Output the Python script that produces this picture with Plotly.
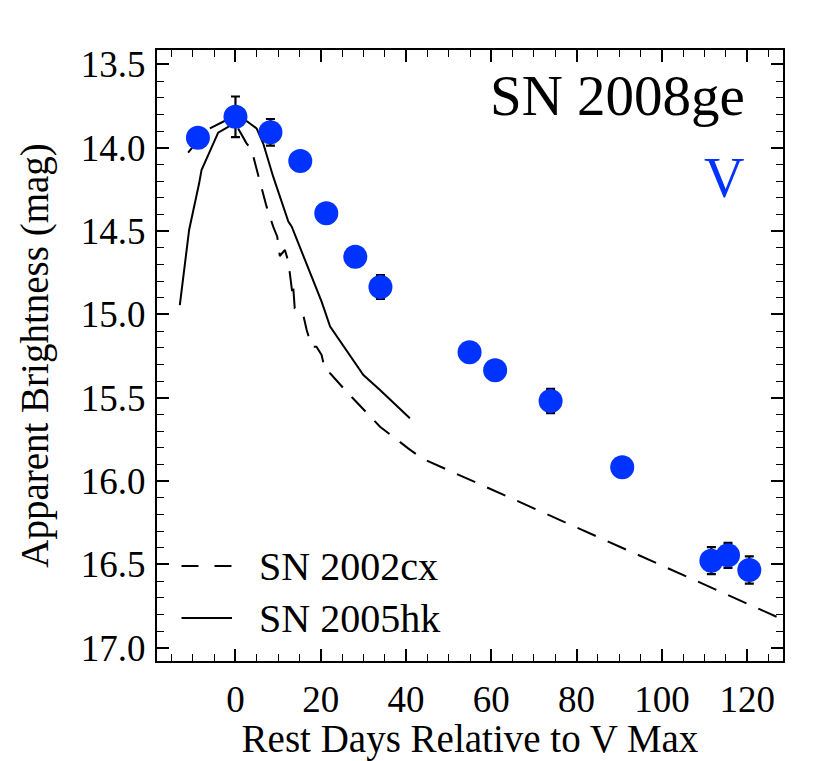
import plotly.graph_objects as go

# SN 2008ge V-band photometry
days_08ge = [-8.8, 0.0, 8.2, 15.2, 21.3, 28.1, 34.0, 54.9, 60.9, 73.9, 90.7, 111.6, 115.5, 120.5]
mag_08ge = [13.94, 13.815, 13.908, 14.08, 14.394, 14.654, 14.836, 15.228, 15.336, 15.52, 15.918, 16.478, 16.446, 16.534]
err_08ge = [0.04, 0.122, 0.08, 0.03, 0.03, 0.04, 0.072, 0.03, 0.03, 0.073, 0.03, 0.081, 0.075, 0.082]

# SN 2005hk template (solid)
days_05hk = [-13.05, -10.87, -8.52, -7.96, -4.06, 0.0, 2.6, 4.95, 6.5, 8.85, 12.4, 13.2, 20.2, 22.2, 30.0, 33.9, 40.9]
mag_05hk = [14.945, 14.494, 14.214, 14.134, 13.91, 13.85, 13.84, 13.884, 13.974, 14.174, 14.444, 14.474, 14.924, 15.074, 15.364, 15.454, 15.624]

# SN 2002cx template (dashed)
days_02cx = [-11.1, -6.8, -2.1, 0.6, 2.6, 3.8, 4.6, 6.5, 7.3, 8.85, 9.8, 10.4, 11.6, 12.4, 12.9, 13.4, 13.55, 13.9,
             15.1, 15.9, 16.7, 17.9, 19.0, 20.2, 21.0, 22.2, 25.7, 33.9, 40.5, 43.7, 130.0]
mag_02cx = [14.03, 13.894, 13.834, 13.884, 13.974, 14.014, 14.094, 14.274, 14.354, 14.474, 14.534, 14.65, 14.614, 14.684,
            14.804, 14.884, 14.838, 14.964, 14.974, 15.004, 15.094, 15.194, 15.194, 15.244, 15.334, 15.354, 15.454,
            15.674, 15.804, 15.864, 16.85]

legend_names = ["SN 2002cx", "SN 2005hk"]
title_text = "SN 2008ge"
band_text = "V"

FONT = "Liberation Serif, Times New Roman, serif"
BLUE = "#0033ff"

fig = go.Figure()
fig.add_trace(go.Scatter(x=days_02cx, y=mag_02cx, mode="lines",
                         line=dict(color="black", width=2, dash="20px,13px"), showlegend=False))
fig.add_trace(go.Scatter(x=days_05hk, y=mag_05hk, mode="lines",
                         line=dict(color="black", width=2), showlegend=False))
fig.add_trace(go.Scatter(x=days_08ge, y=mag_08ge, mode="markers",
                         marker=dict(color=BLUE, size=24, line=dict(width=0)),
                         error_y=dict(type="data", array=err_08ge, color="black", thickness=2.2, width=4.5),
                         showlegend=False))

axis_common = dict(showline=True, linecolor="black", linewidth=2, mirror="allticks",
                   ticks="inside", ticklen=12, tickwidth=1.6, tickcolor="black",
                   showgrid=False, zeroline=False,
                   tickfont=dict(family=FONT, size=37, color="black"))

fig.update_xaxes(range=[-18.4, 128.4], tick0=0, dtick=20,
                 minor=dict(dtick=5, ticks="inside", ticklen=7, tickwidth=1.4, tickcolor="black", showgrid=False),
                 ticklabelstandoff=5,
                 title=dict(text="Rest Days Relative to V Max", font=dict(family=FONT, size=39, color="black"), standoff=7),
                 **axis_common)
fig.update_yaxes(range=[17.08, 13.414], tick0=13.5, dtick=0.5, tickformat=".1f",
                 minor=dict(dtick=0.1, ticks="inside", ticklen=7, tickwidth=1.4, tickcolor="black", showgrid=False),
                 ticklabelstandoff=2,
                 title=dict(text="Apparent Brightness (mag)", font=dict(family=FONT, size=39, color="black"), standoff=20),
                 **axis_common)

# Plot-area pixel geometry for the hand-drawn legend / labels
L, T, W, H = 157, 50, 626, 611
def px(x):
    return (x - L) / W
def py(y):
    return 1 - (y - T) / H

fig.add_annotation(x=px(747), y=py(96), xref="paper", yref="paper", text=title_text, showarrow=False,
                   xanchor="right", yanchor="middle", font=dict(family=FONT, size=57, color="black"))
fig.add_annotation(x=px(746), y=py(178), xref="paper", yref="paper", text=band_text, showarrow=False,
                   xanchor="right", yanchor="middle", font=dict(family=FONT, size=56, color=BLUE))

legend_y = [566, 618]
legend_dash = ["17px,16px", "solid"]
for name, yy, dash in zip(legend_names, legend_y, legend_dash):
    fig.add_shape(type="line", xref="paper", yref="paper", x0=px(181.5), x1=px(232), y0=py(yy), y1=py(yy),
                  line=dict(color="black", width=2, dash=dash))
    fig.add_annotation(x=px(257), y=py(yy), xref="paper", yref="paper", text=name, showarrow=False,
                       xanchor="left", yanchor="middle", font=dict(family=FONT, size=40, color="black"))

fig.update_layout(width=830, height=761, margin=dict(l=157, r=47, t=50, b=100, autoexpand=False),
                  plot_bgcolor="white", paper_bgcolor="white", showlegend=False,
                  font=dict(family=FONT, color="black"))

fig.write_html("out.html", config={"displayModeBar": False},
               post_script="document.body.style.margin='0';document.body.style.overflow='hidden';")
